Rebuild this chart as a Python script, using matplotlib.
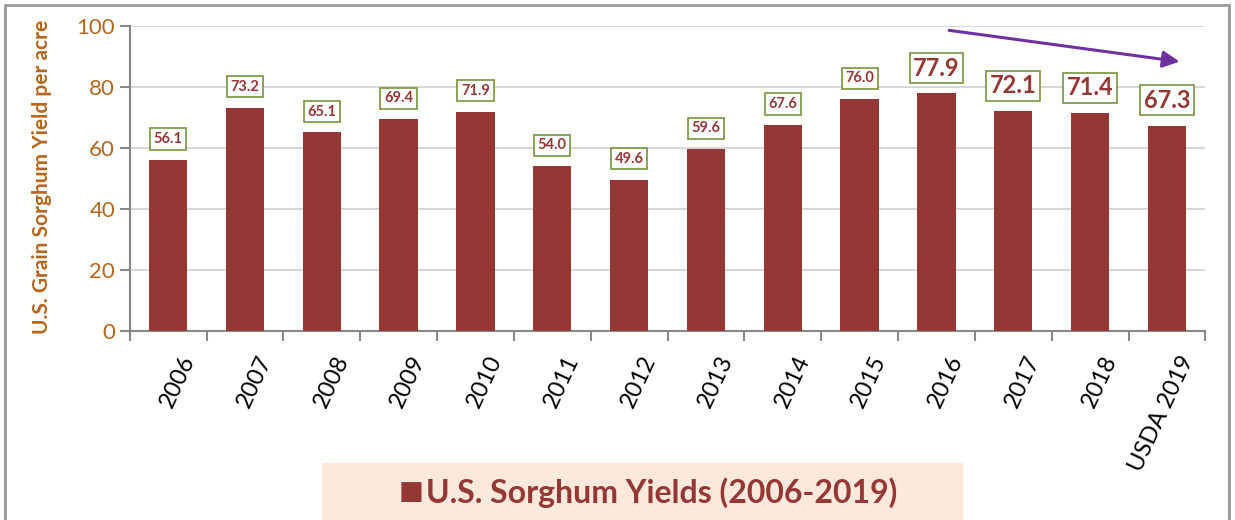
import matplotlib.pyplot as plt
from matplotlib.patches import Rectangle, FancyArrowPatch

years = ["2006", "2007", "2008", "2009", "2010", "2011", "2012", "2013",
         "2014", "2015", "2016", "2017", "2018", "USDA 2019"]
yields = [56.1, 73.2, 65.1, 69.4, 71.9, 54.0, 49.6, 59.6, 67.6, 76.0, 77.9, 72.1, 71.4, 67.3]
big_label = [False] * 10 + [True] * 4

bar_col = "#953735"
brown = "#B5651D"
plt.rcParams['font.family'] = ['Lato', 'DejaVu Sans']

fig = plt.figure(figsize=(12.35, 5.2), dpi=100)
ax = fig.add_axes([0.105, 0.3635, 0.871, 0.5865])

x = range(len(years))
ax.bar(x, yields, width=0.5, color=bar_col, zorder=3)
ax.set_xlim(-0.5, len(years) - 0.5)
ax.set_ylim(0, 100)
ax.set_yticks([0, 20, 40, 60, 80, 100])
ax.yaxis.grid(True, color="#d0d0d0", lw=1.2, zorder=0)

for i, v in enumerate(yields):
    if big_label[i]:
        fs, off, pad = 17, 5, 0.15
    else:
        fs, off, pad = 10.5, 5, 0.25
    ax.annotate(f"{v:.1f}", (i, v), xytext=(0, off + 5), textcoords="offset points",
                ha="center", va="bottom", fontsize=fs, fontweight="bold", color=bar_col,
                bbox=dict(boxstyle=f"square,pad={pad}", fc="white", ec="#77933C", lw=1.2),
                zorder=5)

# category labels, ticks between categories
ax.set_xticks([i - 0.5 for i in range(len(years) + 1)])
ax.set_xticklabels([])
ax.tick_params(axis="x", length=7, color="#888888", width=1.5)
for i, lab in enumerate(years):
    ax.text(i + 0.15, -7, lab, rotation=65, ha="right", va="top", fontsize=17,
            rotation_mode="anchor", transform=ax.transData)

ax.tick_params(axis="y", length=7, color="#888888", width=1.5, labelsize=16, labelcolor=brown)
for s in ["top", "right"]:
    ax.spines[s].set_visible(False)
for s in ["left", "bottom"]:
    ax.spines[s].set_color("#888888")
    ax.spines[s].set_linewidth(1.5)

fig.text(0.034, 0.66, "U.S. Grain Sorghum Yield per acre", rotation=90, ha="center",
         va="center", fontsize=15, fontweight="bold", color=brown)

arrow = FancyArrowPatch((10.13, 98.7), (13.2, 88.2), arrowstyle="-|>,head_length=10,head_width=5",
                        color="#7030A0", lw=2.2, clip_on=False, zorder=6)
ax.add_patch(arrow)

# legend box
fig.patches.append(Rectangle((322 / 1235, 0), 641 / 1235, 57 / 520, transform=fig.transFigure,
                             fc="#FDE9DB", ec="none", zorder=0))
fig.text(0.323, 0.055, "\u25A0", fontsize=19, color=bar_col, va="center", ha="left")
fig.text(0.345, 0.053, "U.S. Sorghum Yields (2006-2019)", fontsize=23, fontweight="bold",
         color=bar_col, va="center", ha="left")

fig.patches.append(Rectangle((5 / 1235, -0.01), 1224 / 1235, 1.0, transform=fig.transFigure,
                             fc="none", ec="#999999", lw=2))

fig.savefig("out.png", dpi=100)
